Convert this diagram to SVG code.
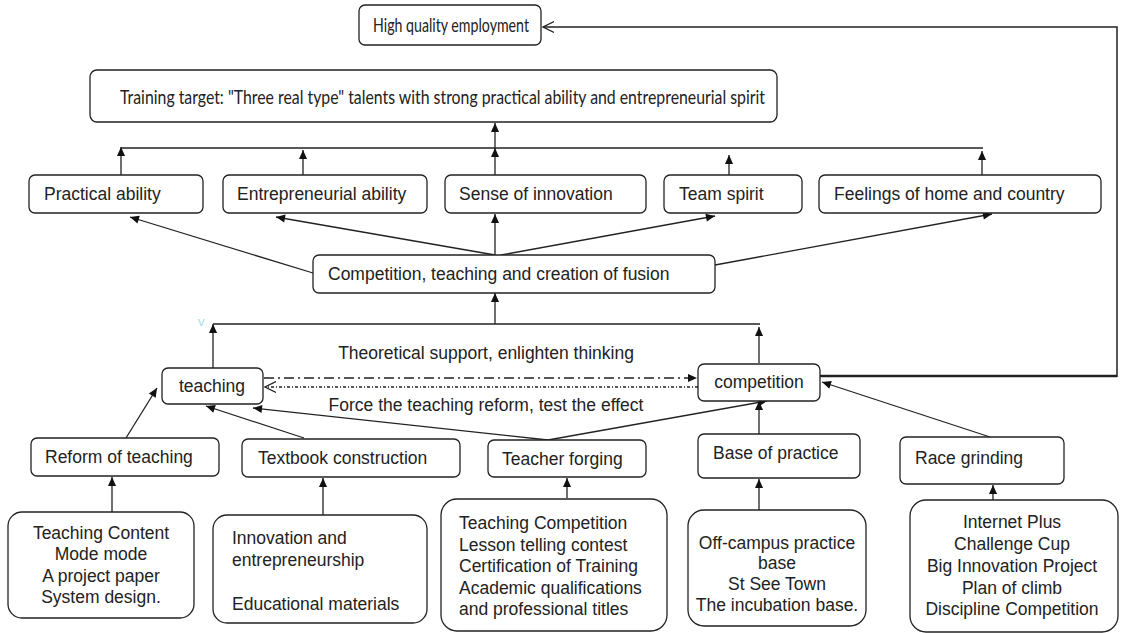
<svg xmlns="http://www.w3.org/2000/svg" width="1123" height="633" viewBox="0 0 1123 633">
<defs>
<marker id="ah" viewBox="0 0 10 10" refX="10" refY="5" markerWidth="10" markerHeight="9" markerUnits="userSpaceOnUse" orient="auto"><path d="M0,0.5 L10,5 L0,9.5 z" fill="#111"/></marker>
<marker id="open" viewBox="0 0 12 12" refX="11" refY="6" markerWidth="12" markerHeight="12" markerUnits="userSpaceOnUse" orient="auto"><path d="M0,0.5 L11,6 L0,11.5" fill="none" stroke="#222" stroke-width="1.2"/></marker>
<style>
rect{fill:#fff;stroke:#222;stroke-width:1.3}
text{font-family:"Liberation Sans",Arial,sans-serif;font-size:17.5px;fill:#222}
.c{text-anchor:middle}
.top{font-family:Lato,"Open Sans",sans-serif;font-size:18px}
#connectors path{fill:none;stroke:#222;stroke-width:1.3}
#connectors .a{marker-end:url(#ah)}
</style>
</defs>
<rect x="0" y="0" width="1123" height="633" style="fill:#fff;stroke:none"/>
<g id="connectors">
<path d="M820,376 H1117" style="stroke-width:2.6"/>
<path d="M1117,377 V27 H543" style="stroke-width:1.5;marker-end:url(#open)"/>
<path d="M121,148 H983"/>
<path class="a" d="M121,175 V147"/>
<path class="a" d="M303,176 V150"/>
<path class="a" d="M495,175 V148"/>
<path class="a" d="M495,148 V123"/>
<path class="a" d="M729,175 V155"/>
<path class="a" d="M982,175 V151"/>
<path class="a" d="M313,273 L130,217"/>
<path class="a" d="M495,255 L276,217"/>
<path class="a" d="M495,255 V214"/>
<path class="a" d="M501,255 L715,216"/>
<path class="a" d="M715,265 L992,214"/>
<path d="M213,324 H760"/>
<path class="a" d="M495,324 V293"/>
<path class="a" d="M213,368 V324"/>
<path class="a" d="M759,363 V327"/>
<path class="a" d="M264,378 H697" style="stroke-dasharray:10,4,2,4"/>
<path d="M698,387 H265" style="stroke-dasharray:3,2,1,2;marker-end:url(#open)"/>
<path class="a" d="M126,438 L157,388"/>
<path class="a" d="M304,438 L206,406"/>
<path class="a" d="M548,440 L253,408"/>
<path class="a" d="M548,440 L767,401"/>
<path class="a" d="M759,434 V401"/>
<path class="a" d="M990,437 L822,382"/>
<path class="a" d="M112,512 V477"/>
<path class="a" d="M323,515 V478"/>
<path class="a" d="M567,498 V478"/>
<path class="a" d="M759,510 V479"/>
<path class="a" d="M993,500 V485"/>
</g>
<text x="198" y="326" style="fill:#a8dde6;font-size:13px">v</text>
<text class="c" x="486" y="359">Theoretical support, enlighten thinking</text>
<text class="c" x="486" y="411">Force the teaching reform, test the effect</text>
<g id="hqe"><rect x="359" y="5" width="182" height="40" rx="6"/><text class="top" x="373" y="32" style="font-size:20px" textLength="156" lengthAdjust="spacingAndGlyphs">High quality employment</text></g>
<g id="target"><rect x="90" y="70" width="687" height="52" rx="7"/><text class="top" x="120" y="104" style="font-size:19px" textLength="645" lengthAdjust="spacingAndGlyphs">Training target: "Three real type" talents with strong practical ability and entrepreneurial spirit</text></g>
<g id="practical"><rect x="29" y="175" width="174" height="38" rx="6"/><text x="44" y="200">Practical ability</text></g>
<g id="entre"><rect x="223" y="175" width="204" height="38" rx="6"/><text x="237" y="200">Entrepreneurial ability</text></g>
<g id="innov"><rect x="445" y="175" width="201" height="38" rx="6"/><text x="459" y="200">Sense of innovation</text></g>
<g id="team"><rect x="664" y="175" width="138" height="38" rx="6"/><text x="679" y="200">Team spirit</text></g>
<g id="feel"><rect x="819" y="175" width="282" height="38" rx="6"/><text x="834" y="200">Feelings of home and country</text></g>
<g id="fusion"><rect x="313" y="255" width="402" height="38" rx="6"/><text x="328" y="280">Competition, teaching and creation of fusion</text></g>
<g id="teaching"><rect x="162" y="368" width="101" height="36" rx="6"/><text class="c" x="212" y="392">teaching</text></g>
<g id="competition"><rect x="698" y="364" width="122" height="37" rx="6"/><text class="c" x="759" y="388">competition</text></g>
<g id="reform"><rect x="31" y="438" width="188" height="38" rx="6"/><text x="45" y="463">Reform of teaching</text></g>
<g id="textbook"><rect x="242" y="439" width="218" height="38" rx="6"/><text x="258" y="464">Textbook construction</text></g>
<g id="teacher"><rect x="488" y="440" width="158" height="37" rx="6"/><text x="502" y="465">Teacher forging</text></g>
<g id="base"><rect x="698" y="434" width="162" height="44" rx="6"/><text x="713" y="459">Base of practice</text></g>
<g id="race"><rect x="900" y="437" width="164" height="47" rx="6"/><text x="915" y="464">Race grinding</text></g>
<g id="d1"><rect x="8" y="512" width="186" height="106" rx="14"/><text class="c" x="101" y="539">Teaching Content</text><text class="c" x="101" y="560">Mode mode</text><text class="c" x="101" y="582">A project paper</text><text class="c" x="101" y="603">System design.</text></g>
<g id="d2"><rect x="213" y="515" width="214" height="108" rx="14"/><text x="232" y="544">Innovation and</text><text x="232" y="566">entrepreneurship</text><text x="232" y="610">Educational materials</text></g>
<g id="d3"><rect x="441" y="499" width="226" height="132" rx="16"/><text x="459" y="529">Teaching Competition</text><text x="459" y="551">Lesson telling contest</text><text x="459" y="572">Certification of Training</text><text x="459" y="594">Academic qualifications</text><text x="459" y="615">and professional titles</text></g>
<g id="d4"><rect x="688" y="510" width="178" height="116" rx="16"/><text class="c" x="777" y="549">Off-campus practice</text><text class="c" x="777" y="569">base</text><text class="c" x="777" y="590">St See Town</text><text class="c" x="777" y="611">The incubation base.</text></g>
<g id="d5"><rect x="910" y="500" width="208" height="132" rx="16"/><text class="c" x="1012" y="528">Internet Plus</text><text class="c" x="1012" y="550">Challenge Cup</text><text class="c" x="1012" y="572">Big Innovation Project</text><text class="c" x="1012" y="594">Plan of climb</text><text class="c" x="1012" y="615">Discipline Competition</text></g>
</svg>
